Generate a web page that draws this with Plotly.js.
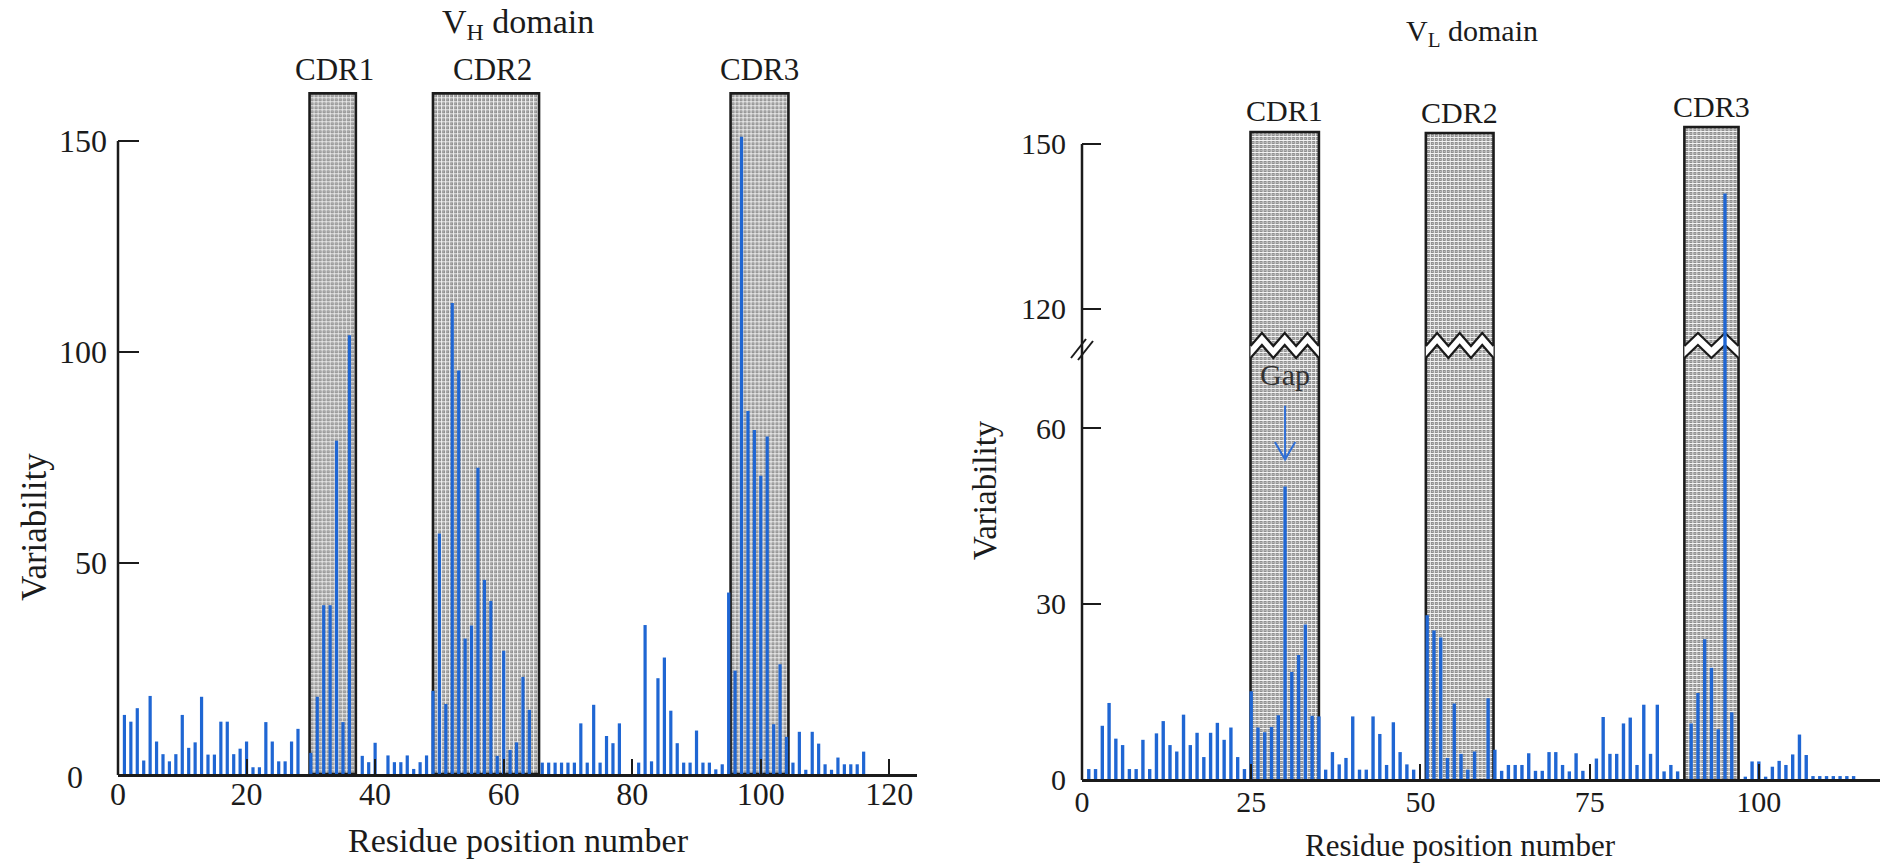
<!DOCTYPE html>
<html><head><meta charset="utf-8">
<script src="https://cdn.plot.ly/plotly-3.0.1.min.js"></script>
<style>html,body{margin:0;padding:0;background:#fff;}#chart{width:1880px;height:864px;}</style>
</head><body><div id="chart"></div>
<script>
// ---------- DATA ----------
const vhPositions = [1,2,3,4,5,6,7,8,9,10,11,12,13,14,15,16,17,18,19,20,21,22,23,24,25,26,27,28,
  30,31,32,33,34,35,36, 38,39,40,
  42,43,44,45,46,47,48,49,50,51,52,53,54,55,56,57,58,59,60,61,62,63,64,
  66,67,68,69,70,71,72,73,74,75,76,77,78,
  81,82,83,84,85,86,87,88,89,90,91,92,93,94,95,96,97,98,99,100,101,102,103,104,105,106,107,108,109,110,111,112,113,114,115,116];
const vhVariability = [14,12.4,15.6,3.2,18.5,7.7,4.7,3,4.7,14,6.2,7.5,18.3,4.6,4.6,12.4,12.4,4.7,6,7.7,1.6,1.6,12.3,7.7,3,3,7.7,10.7,
  5,18.3,40,40,79,12.3,104, 4.3,2.8,7.4,
  4.4,2.8,2.8,4.4,1.2,2.8,4.4,19.7,57,16.6,111.6,95.6,32.1,35.2,72.6,46,41,4.3,29.2,5.7,7.5,23,15.2,
  2.7,2.7,2.7,2.7,2.7,2.7,12,2.7,16.4,2.7,9,7.3,12,
  2.7,35.3,3,22.7,27.6,15,7.3,2.7,2.7,10.3,2.7,2.7,1.1,2.3,43,24.5,151,86,81.5,70.7,80,11.8,26,8.8,2.7,10,1,10,7.2,2.3,1,3.9,2.3,2.3,2.3,5.3];

const vlPositions = [1,2,3,4,5,6,7,8,9,10,11,12,13,14,15,16,17,18,19,20,21,22,23,24,25,26,27,28,29,30,
  31,32,33,34,35,36,37,38,39,40,41,42,43,44,45,46,47,48,49,
  51,52,53,54,55,56,57,58,
  60,61,62,63,64,65,66,67,68,69,70,71,72,73,74,
  76,77,78,79,80,81,82,83,84,85,86,87,88,
  90,91,92,93,94,95,96,
  98,99,100,101,102,103,104,105,106,107,108,109,110,111,112,113,114];
const vlVariability = [1.7,1.7,9.1,13,6.9,5.8,1.7,1.7,6.7,1.7,7.8,9.9,5.8,4.7,11,5.8,7.9,3.75,7.9,9.6,6.7,8.8,3.75,1.7,15,8.8,8,8.9,10.9,50,
  18.3,21.2,26.4,10.8,10.7,1.6,4.6,2.5,3.6,10.7,1.6,1.6,10.7,7.7,2.4,9.7,4.6,2.5,1.6,
  28,25.4,24.2,3.6,12.9,4.3,1.6,4.7,
  13.8,5,1.4,2.4,2.4,2.4,4.4,1.4,1.4,4.6,4.6,2.4,1.3,4.4,1.4,
  3.5,10.6,4.3,4.3,9.5,10.5,2.4,12.7,4.3,12.7,1.3,2.4,1.3,
  9.5,14.7,23.9,19,8.5,141,11.4,
  0.4,3,3,0.4,2.1,3.1,2.4,4.2,7.6,4.1,0.5,0.5,0.5,0.5,0.5,0.5,0.5];

const cdrNames = ['CDR1','CDR2','CDR3'];
const vhCdrStart = [29.8, 49.0, 95.3];
const vhCdrEnd   = [37.0, 65.5, 104.3];
const vlCdrStart = [24.9, 50.8, 89.0];
const vlCdrEnd   = [35.0, 60.8, 97.0];

const vhXTicks = [0,20,40,60,80,100,120];
const vhYTicks = [50,100,150];
const vlXTicks = [0,25,50,75,100];
const vlYTicksLow = [0,30,60];
const vlYTicksHigh = [120,150];
const gapResidue = 30;

// ---------- LAYOUT GEOMETRY ----------
const W = 1880, H = 864;
const px = v => v / W;
const py = v => 1 - v / H;
const FONT = 'Liberation Serif, Times New Roman, serif';
const INK = '#1b1b1b';
const BLUE = '#1f66d3';

const L = {x0:118, x1:917, base:774, top:73.5, xr:[0,124.3], yr:[0,166]};
const R = {x0:1082, x1:1880, base:779, brk:345, top:125, xr:[0,117.9], y2r:[0,74.19], y3r:[113.45,153.45]};
const xPixL = v => L.x0 + (v - L.xr[0]) * (L.x1 - L.x0) / (L.xr[1] - L.xr[0]);
const xPixR = v => R.x0 + (v - R.xr[0]) * (R.x1 - R.x0) / (R.xr[1] - R.xr[0]);
const yPixL = v => L.base - (v - L.yr[0]) * (L.base - L.top) / (L.yr[1] - L.yr[0]);
const yPixR3 = v => R.brk - (v - R.y3r[0]) * (R.brk - R.top) / (R.y3r[1] - R.y3r[0]);

function xAx(domain, range, anchor, tickvals, size, standoff){
  return {domain, range, anchor, showline:true, linewidth:2.5, linecolor:INK,
    ticks:'inside', ticklen:15, tickwidth:2, tickcolor:INK, tickvals, ticktext: tickvals.map(String),
    tickfont:{family:FONT, size, color:INK}, showgrid:false, zeroline:false, ticklabelstandoff: standoff, fixedrange:true};
}
function yAx(domain, range, anchor, tickvals, size, standoff, len){
  return {domain, range, anchor, showline:false, ticks:'inside', ticklen:len, tickwidth:2, tickcolor:INK,
    tickvals, ticktext: tickvals.map(String), tickfont:{family:FONT, size, color:INK}, showgrid:false, zeroline:false,
    ticklabelstandoff: standoff, fixedrange:true};
}

// ---------- TRACES ----------
const traces = [
  {type:'bar', x:vhPositions, y:vhVariability, xaxis:'x', yaxis:'y', width:0.5,
   marker:{color:BLUE, line:{width:0}}, hoverinfo:'skip'},
  {type:'bar', x:vlPositions, y:vlVariability, xaxis:'x2', yaxis:'y2', width:0.5,
   marker:{color:BLUE, line:{width:0}}, hoverinfo:'skip'},
  {type:'bar', x:vlPositions, y:vlVariability, xaxis:'x2', yaxis:'y3', width:0.5,
   marker:{color:BLUE, line:{width:0}}, hoverinfo:'skip'}
];

// stippled grey texture for the CDR boxes
function texture(w, h){
  const svg = `<svg xmlns="http://www.w3.org/2000/svg" width="${w}" height="${h}" viewBox="0 0 ${w} ${h}">` +
    `<defs><pattern id="p" width="4" height="4" patternUnits="userSpaceOnUse">` +
    `<rect width="4" height="4" fill="#8e8e8e"/><rect width="4" height="1" fill="#f2f2f2"/><rect width="1" height="4" fill="#f2f2f2"/>` +
    `<rect x="2" y="2" width="1" height="1" fill="#c8c8c8"/></pattern></defs>` +
    `<rect width="${w}" height="${h}" fill="#b9b9b9"/><rect width="${w}" height="${h}" fill="url(#p)"/></svg>`;
  return 'data:image/svg+xml;charset=utf-8,' + encodeURIComponent(svg);
}

// ---------- SHAPES & IMAGES ----------
const shapes = [], images = [];
const vhBoxTopPx = yPixL(161.3);
for (let i = 0; i < cdrNames.length; i++) {
  const a = vhCdrStart[i], b = vhCdrEnd[i];
  const wpx = Math.round(xPixL(b) - xPixL(a)), hpx = Math.round(L.base - vhBoxTopPx);
  images.push({source: texture(wpx, hpx), xref:'x', yref:'paper', x:a, y:py(vhBoxTopPx), sizex:b - a, sizey:hpx / H,
    xanchor:'left', yanchor:'top', sizing:'stretch', layer:'below'});
  shapes.push({type:'rect', xref:'x', yref:'paper', x0:a, x1:b, y0:py(L.base), y1:py(vhBoxTopPx),
    fillcolor:'rgba(0,0,0,0)', line:{color:INK, width:2.6}, layer:'below'});
}
const vlBoxTopPx = [132, 133, 127];
const teeth = [3, 3, 2];
const zz = {upPeak:333, upValley:346, loPeak:345, loValley:358};
for (let i = 0; i < cdrNames.length; i++) {
  const a = vlCdrStart[i], b = vlCdrEnd[i];
  const wpx = Math.round(xPixR(b) - xPixR(a)), hpx = Math.round(R.base - vlBoxTopPx[i]);
  images.push({source: texture(wpx, hpx), xref:'x2', yref:'paper', x:a, y:py(vlBoxTopPx[i]), sizex:b - a, sizey:hpx / H,
    xanchor:'left', yanchor:'top', sizing:'stretch', layer:'below'});
  shapes.push({type:'path', xref:'x2', yref:'paper', layer:'below',
    path:`M${a},${py(R.base)} L${a},${py(vlBoxTopPx[i])} L${b},${py(vlBoxTopPx[i])} L${b},${py(R.base)}`,
    line:{color:INK, width:2.6}});
  const n = teeth[i] * 2;
  const up = [], lo = [];
  for (let k = 0; k <= n; k++) {
    const x = a + (b - a) * k / n;
    up.push([x, py(k % 2 ? zz.upPeak : zz.upValley)]);
    lo.push([x, py(k % 2 ? zz.loPeak : zz.loValley)]);
  }
  const band = 'M' + up.map(p => p.join(',')).join(' L') + ' L' + lo.slice().reverse().map(p => p.join(',')).join(' L') + ' Z';
  shapes.push({type:'path', xref:'x2', yref:'paper', layer:'below', path:band, fillcolor:'#ffffff', line:{width:0}});
  shapes.push({type:'path', xref:'x2', yref:'paper', layer:'below', path:'M' + up.map(p => p.join(',')).join(' L'), line:{color:INK, width:2.2}});
  shapes.push({type:'path', xref:'x2', yref:'paper', layer:'below', path:'M' + lo.map(p => p.join(',')).join(' L'), line:{color:INK, width:2.2}});
}
// vertical axis lines (ending at 150)
shapes.push({type:'line', xref:'paper', yref:'paper', x0:px(L.x0), x1:px(L.x0), y0:py(L.base + 1), y1:py(yPixL(150)),
  line:{color:INK, width:2.5}});
shapes.push({type:'line', xref:'paper', yref:'paper', x0:px(R.x0), x1:px(R.x0), y0:py(R.base + 1), y1:py(yPixR3(150)),
  line:{color:INK, width:2.5}});
// axis break marks //
shapes.push({type:'line', xref:'paper', yref:'paper', x0:px(1071), y0:py(358), x1:px(1086), y1:py(339), line:{color:INK, width:2}});
shapes.push({type:'line', xref:'paper', yref:'paper', x0:px(1078), y0:py(360), x1:px(1093), y1:py(341), line:{color:INK, width:2}});
// Gap arrow (blue)
const ARROW = '#2f6fd6';
shapes.push({type:'line', xref:'x2', yref:'y2', x0:gapResidue, x1:gapResidue, y0:63.8, y1:54.8, line:{color:ARROW, width:2}});
shapes.push({type:'path', xref:'x2', yref:'y2', path:`M${gapResidue - 1.5},57.6 L${gapResidue},54.6 L${gapResidue + 1.5},57.6`,
  line:{color:ARROW, width:2}});

// ---------- ANNOTATIONS ----------
const ann = [];
const txt = (text, x, y, xref, size, extra) => Object.assign({text, x, y, xref: xref || 'paper', yref:'paper',
  showarrow:false, font:{family:FONT, size: size || 30, color:INK}, xanchor:'center', yanchor:'middle'}, extra || {});
ann.push(txt('V<sub>H</sub> domain', px(518), py(24), 'paper', 34));
ann.push(txt('V<sub>L</sub> domain', px(1472), py(33), 'paper', 30));
const vhLabelShift = [2, 6, 0];
for (let i = 0; i < cdrNames.length; i++) {
  ann.push(txt(cdrNames[i], (vhCdrStart[i] + vhCdrEnd[i]) / 2, py(70), 'x', 31, {xshift: vhLabelShift[i]}));
}
const vlLabelPx = [111, 113, 106];
for (let i = 0; i < cdrNames.length; i++) {
  ann.push(txt(cdrNames[i], (vlCdrStart[i] + vlCdrEnd[i]) / 2, py(vlLabelPx[i]), 'x2', 30));
}
ann.push(txt('Gap', gapResidue, py(374), 'x2', 30, {font:{family:FONT, size:30, color:'#333'}}));
ann.push(txt('0', px(75), py(777), 'paper', 32));
ann.push(txt('Variability', px(34), py(527), 'paper', 35, {textangle:-90}));
ann.push(txt('Variability', px(985), py(490), 'paper', 33, {textangle:-90}));
ann.push(txt('Residue position number', px(518), py(840), 'paper', 34));
ann.push(txt('Residue position number', px(1460), py(845), 'paper', 31));

const layout = {
  width: W, height: H, margin:{l:0, r:0, t:0, b:0}, paper_bgcolor:'#fff', plot_bgcolor:'rgba(0,0,0,0)',
  showlegend:false, barmode:'overlay', hovermode:false,
  xaxis: xAx([px(L.x0), px(L.x1)], L.xr, 'y', vhXTicks, 32, -10),
  yaxis: yAx([py(L.base), py(L.top)], L.yr, 'x', vhYTicks, 32, 10, 21),
  xaxis2: xAx([px(R.x0), px(R.x1)], R.xr, 'y2', vlXTicks, 30, -6),
  yaxis2: yAx([py(R.base), py(R.brk)], R.y2r, 'x2', vlYTicksLow, 30, 15, 19),
  yaxis3: yAx([py(R.brk), py(R.top)], R.y3r, 'x2', vlYTicksHigh, 30, 15, 19),
  shapes, images, annotations: ann
};
Plotly.newPlot('chart', traces, layout, {staticPlot:true, displayModeBar:false});
</script></body></html>
